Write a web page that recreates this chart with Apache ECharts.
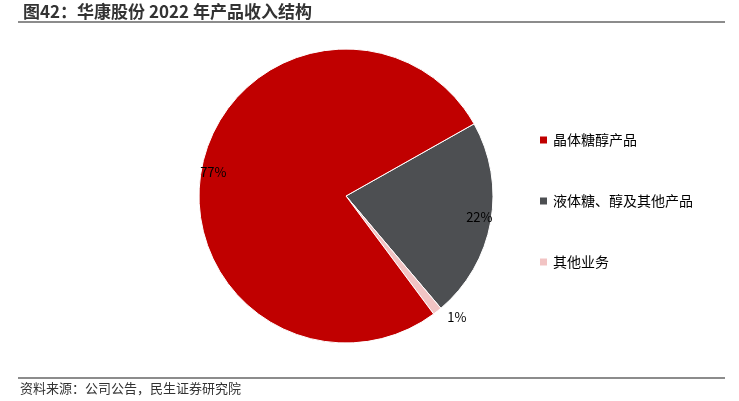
<!DOCTYPE html><html><head><meta charset="utf-8"><script src="https://cdn.jsdelivr.net/npm/echarts@6/dist/echarts.min.js"></script></head><body style="margin:0"><div id="c" style="width:739px;height:401px"></div><script>
const categories=['液体糖、醇及其他产品','其他业务','晶体糖醇产品'];
const values=[22,1,77];
const legendOrder=['晶体糖醇产品','液体糖、醇及其他产品','其他业务'];
const colors=['#4D4F52','#F2C4C4','#C00000'];
const F='"Noto Sans CJK SC",sans-serif';
const ch=echarts.init(document.getElementById('c'));
const inner={position:'outside',formatter:'{d}%',fontSize:13,color:'#000',fontFamily:F};
ch.setOption({
animation:false,
title:{text:'图42：华康股份 2022 年产品收入结构',left:18,top:-2,textStyle:{fontSize:17,fontWeight:'bold',color:'#333',fontFamily:F}},
graphic:[{type:'line',shape:{x1:18,y1:22,x2:725,y2:22},style:{stroke:'#666',lineWidth:1.5}},
{type:'line',shape:{x1:18,y1:378,x2:725,y2:378},style:{stroke:'#666',lineWidth:1.5}},
{type:'text',left:20,top:382,style:{text:'资料来源：公司公告，民生证券研究院',fontSize:13,fill:'#333',fontFamily:F}}],
legend:{orient:'vertical',left:533,top:128,itemGap:47,itemWidth:9,itemHeight:9,icon:'rect',data:legendOrder,textStyle:{fontSize:14,color:'#000',fontFamily:F}},
series:[{type:'pie',center:[346,196],radius:147,startAngle:29.4,clockwise:true,
itemStyle:{borderColor:'#fff',borderWidth:1},
data:categories.map((n,i)=>{
 const o={name:n,value:values[i],itemStyle:{color:colors[i]}};
 if(i===1){o.label={position:'outside',formatter:'{d}%',fontSize:13,color:'#000',fontFamily:F};o.labelLine={show:false,length:8,length2:0};}
 else {o.label=inner;o.labelLine={show:false,length:-30,length2:0};}
 return o;}),
labelLayout:{hideOverlap:false}
}]});
</script></body></html>
